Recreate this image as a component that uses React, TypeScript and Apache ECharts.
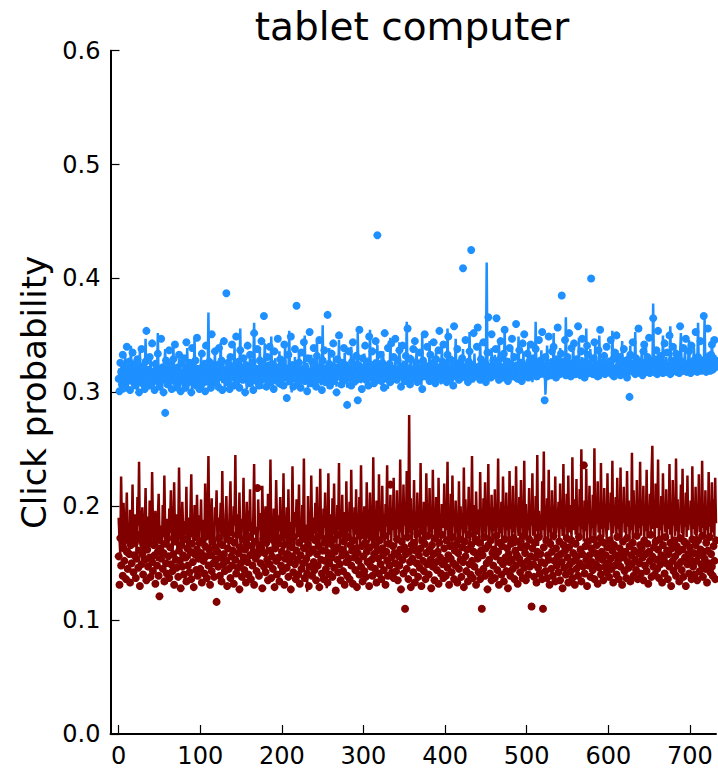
import React, { useEffect, useRef } from "react";
import * as echarts from "echarts";

const chartTitle = "tablet computer";
const yAxisTitle = "Click probability";
const xTicks = [0, 100, 200, 300, 400, 500, 600, 700];
const yMin = 0;
const yMax = 0.6;
const yStep = 0.1;
const xMin = -10;
const xMax = 732;

// blue group (line)
const blueLine = [
  0.309, 0.321, 0.304, 0.315, 0.327, 0.311, 0.300, 0.318, 0.333, 0.306, 0.313, 0.302, 0.324, 0.317, 0.309, 0.341, 0.312, 0.305, 0.320, 0.328,
  0.303, 0.316, 0.310, 0.299, 0.322, 0.314, 0.336, 0.307, 0.319, 0.325, 0.311, 0.302, 0.318, 0.347, 0.309, 0.315, 0.323, 0.304, 0.312, 0.330,
  0.318, 0.306, 0.313, 0.301, 0.327, 0.320, 0.309, 0.314, 0.352, 0.305, 0.317, 0.311, 0.324, 0.300, 0.316, 0.308, 0.321, 0.338, 0.313, 0.306,
  0.319, 0.326, 0.310, 0.303, 0.315, 0.322, 0.308, 0.344, 0.312, 0.318, 0.301, 0.325, 0.314, 0.309, 0.330, 0.306, 0.317, 0.321, 0.311, 0.303,
  0.328, 0.316, 0.309, 0.313, 0.339, 0.304, 0.318, 0.322, 0.310, 0.315, 0.300, 0.326, 0.317, 0.348, 0.308, 0.312, 0.324, 0.305, 0.319, 0.313,
  0.307, 0.331, 0.315, 0.302, 0.320, 0.311, 0.317, 0.325, 0.306, 0.314, 0.370, 0.309, 0.321, 0.316, 0.303, 0.328, 0.312, 0.318, 0.335, 0.307,
  0.313, 0.322, 0.301, 0.317, 0.310, 0.344, 0.315, 0.308, 0.326, 0.319, 0.304, 0.312, 0.323, 0.316, 0.309, 0.332, 0.318, 0.305, 0.327, 0.314,
  0.311, 0.320, 0.340, 0.306, 0.317, 0.313, 0.324, 0.302, 0.318, 0.356, 0.310, 0.315, 0.321, 0.308, 0.329, 0.312, 0.317, 0.303, 0.322, 0.316,
  0.309, 0.334, 0.313, 0.319, 0.305, 0.326, 0.361, 0.311, 0.316, 0.322, 0.307, 0.318, 0.314, 0.338, 0.310, 0.303, 0.324, 0.317, 0.312, 0.343,
  0.320, 0.308, 0.315, 0.327, 0.312, 0.305, 0.318, 0.349, 0.313, 0.309, 0.322, 0.316, 0.330, 0.307, 0.314, 0.320, 0.311, 0.336, 0.304, 0.318,
  0.325, 0.313, 0.309, 0.317, 0.342, 0.310, 0.321, 0.306, 0.315, 0.354, 0.312, 0.318, 0.300, 0.324, 0.314, 0.309, 0.331, 0.317, 0.312, 0.320,
  0.305, 0.337, 0.316, 0.311, 0.323, 0.308, 0.319, 0.313, 0.350, 0.310, 0.317, 0.326, 0.304, 0.315, 0.321, 0.312, 0.333, 0.309, 0.318, 0.314,
  0.322, 0.307, 0.316, 0.345, 0.311, 0.319, 0.313, 0.328, 0.306, 0.317, 0.359, 0.312, 0.320, 0.309, 0.315, 0.324, 0.311, 0.303, 0.339, 0.316,
  0.313, 0.321, 0.308, 0.317, 0.331, 0.312, 0.318, 0.305, 0.325, 0.314, 0.346, 0.310, 0.319, 0.316, 0.322, 0.307, 0.313, 0.335, 0.311, 0.318,
  0.304, 0.316, 0.323, 0.312, 0.309, 0.340, 0.315, 0.320, 0.311, 0.327, 0.306, 0.317, 0.313, 0.352, 0.310, 0.318, 0.324, 0.308, 0.315, 0.321,
  0.312, 0.334, 0.309, 0.318, 0.314, 0.325, 0.307, 0.316, 0.355, 0.311, 0.320, 0.313, 0.317, 0.305, 0.329, 0.315, 0.312, 0.342, 0.318, 0.310,
  0.323, 0.314, 0.319, 0.308, 0.336, 0.313, 0.317, 0.311, 0.326, 0.316, 0.303, 0.321, 0.315, 0.348, 0.312, 0.318, 0.310, 0.324, 0.314, 0.331,
  0.309, 0.317, 0.322, 0.313, 0.344, 0.311, 0.316, 0.320, 0.307, 0.328, 0.314, 0.319, 0.312, 0.362, 0.315, 0.310, 0.323, 0.317, 0.333, 0.313,
  0.318, 0.311, 0.326, 0.315, 0.308, 0.339, 0.316, 0.320, 0.312, 0.324, 0.317, 0.306, 0.351, 0.313, 0.319, 0.315, 0.327, 0.311, 0.318, 0.322,
  0.314, 0.345, 0.312, 0.317, 0.309, 0.330, 0.316, 0.321, 0.313, 0.337, 0.310, 0.318, 0.325, 0.314, 0.319, 0.307, 0.343, 0.315, 0.320, 0.312,
  0.326, 0.317, 0.311, 0.356, 0.314, 0.320, 0.316, 0.309, 0.332, 0.318, 0.313, 0.323, 0.316, 0.347, 0.311, 0.319, 0.314, 0.328, 0.317, 0.312,
  0.321, 0.315, 0.338, 0.313, 0.318, 0.310, 0.327, 0.316, 0.320, 0.312, 0.353, 0.317, 0.314, 0.323, 0.318, 0.309, 0.334, 0.315, 0.319, 0.313,
  0.324, 0.316, 0.311, 0.344, 0.318, 0.314, 0.320, 0.329, 0.313, 0.317, 0.322, 0.414, 0.315, 0.310, 0.326, 0.318, 0.313, 0.339, 0.316, 0.320,
  0.312, 0.333, 0.317, 0.314, 0.321, 0.308, 0.346, 0.315, 0.319, 0.313, 0.325, 0.316, 0.311, 0.357, 0.318, 0.314, 0.322, 0.317, 0.330, 0.312,
  0.319, 0.315, 0.340, 0.313, 0.320, 0.316, 0.310, 0.327, 0.318, 0.314, 0.349, 0.317, 0.312, 0.323, 0.315, 0.320, 0.336, 0.311, 0.318, 0.314,
  0.321, 0.316, 0.344, 0.312, 0.319, 0.315, 0.328, 0.309, 0.317, 0.322, 0.313, 0.362, 0.316, 0.318, 0.311, 0.325, 0.315, 0.320, 0.337, 0.313,
  0.318, 0.314, 0.323, 0.298, 0.316, 0.341, 0.319, 0.313, 0.321, 0.317, 0.330, 0.315, 0.312, 0.352, 0.318, 0.314, 0.320, 0.326, 0.316, 0.319,
  0.313, 0.339, 0.317, 0.322, 0.315, 0.328, 0.318, 0.312, 0.366, 0.316, 0.320, 0.314, 0.333, 0.318, 0.315, 0.323, 0.317, 0.345, 0.313, 0.319,
  0.316, 0.325, 0.320, 0.314, 0.348, 0.317, 0.322, 0.315, 0.331, 0.318, 0.313, 0.321, 0.316, 0.356, 0.319, 0.314, 0.324, 0.317, 0.338, 0.315,
  0.320, 0.316, 0.327, 0.313, 0.342, 0.318, 0.321, 0.315, 0.319, 0.350, 0.317, 0.312, 0.325, 0.318, 0.316, 0.334, 0.320, 0.314, 0.322, 0.317,
  0.315, 0.329, 0.318, 0.322, 0.314, 0.354, 0.319, 0.316, 0.324, 0.312, 0.320, 0.337, 0.317, 0.321, 0.315, 0.326, 0.318, 0.345, 0.314, 0.320,
  0.317, 0.323, 0.315, 0.332, 0.319, 0.313, 0.321, 0.341, 0.316, 0.318, 0.325, 0.320, 0.314, 0.353, 0.317, 0.322, 0.319, 0.328, 0.315, 0.321,
  0.318, 0.336, 0.316, 0.320, 0.314, 0.327, 0.344, 0.319, 0.317, 0.323, 0.315, 0.330, 0.318, 0.321, 0.316, 0.378, 0.320, 0.314, 0.326, 0.319,
  0.317, 0.339, 0.321, 0.315, 0.324, 0.318, 0.320, 0.350, 0.316, 0.322, 0.319, 0.331, 0.315, 0.323, 0.318, 0.320, 0.358, 0.317, 0.327, 0.321,
  0.316, 0.324, 0.342, 0.319, 0.315, 0.328, 0.320, 0.317, 0.334, 0.352, 0.318, 0.322, 0.316, 0.325, 0.336, 0.319, 0.321, 0.317, 0.329, 0.346,
  0.320, 0.316, 0.323, 0.318, 0.327, 0.339, 0.321, 0.317, 0.324, 0.319, 0.361, 0.316, 0.322, 0.320, 0.331, 0.318, 0.324, 0.317, 0.365, 0.320,
  0.318, 0.326, 0.335, 0.321, 0.317, 0.323, 0.319, 0.348, 0.320, 0.324, 0.318, 0.333, 0.321,
];

// blue group (observed points)
const blueDots = [
  0.312, 0.301, 0.326, 0.318, 0.307, 0.333, 0.315, 0.322, 0.304, 0.319, 0.340, 0.310, 0.316, 0.327, 0.302, 0.321, 0.313, 0.335, 0.309, 0.318,
  0.324, 0.306, 0.317, 0.329, 0.311, 0.300, 0.320, 0.314, 0.338, 0.308, 0.323, 0.315, 0.303, 0.327, 0.354, 0.312, 0.319, 0.306, 0.331, 0.316,
  0.309, 0.343, 0.318, 0.313, 0.302, 0.325, 0.316, 0.310, 0.334, 0.320, 0.305, 0.317, 0.347, 0.311, 0.322, 0.300, 0.314, 0.282, 0.328, 0.319,
  0.307, 0.316, 0.337, 0.312, 0.324, 0.303, 0.318, 0.329, 0.310, 0.342, 0.315, 0.321, 0.306, 0.319, 0.333, 0.313, 0.301, 0.325, 0.317, 0.310,
  0.330, 0.318, 0.304, 0.344, 0.313, 0.320, 0.309, 0.326, 0.315, 0.300, 0.339, 0.317, 0.322, 0.311, 0.328, 0.306, 0.348, 0.314, 0.319, 0.303,
  0.321, 0.312, 0.334, 0.308, 0.317, 0.325, 0.301, 0.341, 0.315, 0.320, 0.310, 0.327, 0.318, 0.304, 0.351, 0.313, 0.322, 0.309, 0.336, 0.316,
  0.311, 0.324, 0.305, 0.339, 0.318, 0.314, 0.328, 0.302, 0.320, 0.345, 0.312, 0.317, 0.387, 0.309, 0.326, 0.315, 0.303, 0.331, 0.321, 0.342,
  0.313, 0.306, 0.322, 0.316, 0.349, 0.310, 0.319, 0.327, 0.304, 0.337, 0.315, 0.321, 0.311, 0.330, 0.318, 0.300, 0.324, 0.313, 0.341, 0.317,
  0.308, 0.333, 0.319, 0.314, 0.326, 0.302, 0.352, 0.316, 0.321, 0.310, 0.338, 0.315, 0.306, 0.328, 0.319, 0.345, 0.311, 0.323, 0.367, 0.314,
  0.320, 0.305, 0.331, 0.317, 0.312, 0.340, 0.318, 0.309, 0.325, 0.314, 0.303, 0.336, 0.319, 0.322, 0.311, 0.347, 0.316, 0.308, 0.329, 0.320,
  0.313, 0.327, 0.306, 0.342, 0.318, 0.315, 0.295, 0.321, 0.333, 0.310, 0.319, 0.349, 0.314, 0.324, 0.305, 0.317, 0.338, 0.312, 0.376, 0.320,
  0.309, 0.326, 0.316, 0.304, 0.335, 0.319, 0.313, 0.344, 0.310, 0.322, 0.317, 0.301, 0.330, 0.315, 0.353, 0.318, 0.308, 0.327, 0.312, 0.339,
  0.316, 0.323, 0.305, 0.332, 0.318, 0.311, 0.346, 0.320, 0.314, 0.302, 0.328, 0.317, 0.337, 0.309, 0.321, 0.315, 0.368, 0.312, 0.325, 0.306,
  0.319, 0.334, 0.313, 0.343, 0.310, 0.322, 0.316, 0.300, 0.329, 0.318, 0.350, 0.314, 0.320, 0.307, 0.326, 0.317, 0.339, 0.311, 0.324, 0.315,
  0.289, 0.321, 0.336, 0.313, 0.318, 0.306, 0.327, 0.344, 0.315, 0.320, 0.310, 0.332, 0.317, 0.293, 0.324, 0.355, 0.312, 0.319, 0.303, 0.330,
  0.316, 0.322, 0.341, 0.311, 0.318, 0.327, 0.306, 0.349, 0.315, 0.320, 0.313, 0.336, 0.318, 0.308, 0.325, 0.345, 0.314, 0.438, 0.321, 0.311,
  0.317, 0.333, 0.310, 0.326, 0.319, 0.304, 0.352, 0.316, 0.322, 0.312, 0.339, 0.318, 0.325, 0.309, 0.343, 0.315, 0.320, 0.331, 0.313, 0.347,
  0.319, 0.311, 0.328, 0.316, 0.337, 0.322, 0.305, 0.318, 0.341, 0.314, 0.324, 0.310, 0.332, 0.319, 0.356, 0.316, 0.321, 0.307, 0.329, 0.317,
  0.312, 0.338, 0.320, 0.345, 0.315, 0.326, 0.309, 0.322, 0.317, 0.335, 0.313, 0.319, 0.303, 0.328, 0.318, 0.351, 0.314, 0.323, 0.340, 0.316,
  0.321, 0.310, 0.333, 0.317, 0.325, 0.313, 0.344, 0.319, 0.308, 0.329, 0.316, 0.322, 0.337, 0.354, 0.314, 0.320, 0.311, 0.327, 0.342, 0.318,
  0.315, 0.324, 0.309, 0.333, 0.349, 0.317, 0.321, 0.312, 0.328, 0.319, 0.306, 0.358, 0.316, 0.323, 0.314, 0.338, 0.320, 0.311, 0.326, 0.318,
  0.313, 0.330, 0.409, 0.317, 0.322, 0.346, 0.315, 0.320, 0.309, 0.327, 0.336, 0.318, 0.425, 0.312, 0.324, 0.352, 0.317, 0.321, 0.314, 0.340,
  0.357, 0.316, 0.323, 0.311, 0.329, 0.318, 0.320, 0.344, 0.314, 0.326, 0.309, 0.321, 0.335, 0.366, 0.317, 0.322, 0.313, 0.351, 0.319, 0.328,
  0.315, 0.320, 0.338, 0.365, 0.316, 0.324, 0.311, 0.329, 0.345, 0.318, 0.322, 0.313, 0.334, 0.355, 0.319, 0.316, 0.327, 0.310, 0.321, 0.339,
  0.318, 0.325, 0.347, 0.314, 0.320, 0.331, 0.316, 0.360, 0.322, 0.312, 0.319, 0.337, 0.317, 0.326, 0.310, 0.343, 0.321, 0.351, 0.315, 0.323,
  0.319, 0.334, 0.313, 0.327, 0.318, 0.342, 0.321, 0.315, 0.330, 0.317, 0.324, 0.338, 0.314, 0.322, 0.319, 0.346, 0.316, 0.328, 0.320, 0.353,
  0.317, 0.323, 0.293, 0.331, 0.319, 0.314, 0.326, 0.349, 0.318, 0.322, 0.315, 0.336, 0.320, 0.340, 0.316, 0.325, 0.313, 0.329, 0.357, 0.319,
  0.322, 0.316, 0.334, 0.385, 0.318, 0.327, 0.320, 0.346, 0.315, 0.321, 0.331, 0.317, 0.352, 0.323, 0.314, 0.339, 0.320, 0.326, 0.343, 0.318,
  0.316, 0.329, 0.321, 0.358, 0.319, 0.324, 0.315, 0.336, 0.347, 0.318, 0.322, 0.313, 0.327, 0.320, 0.341, 0.333, 0.317, 0.323, 0.319, 0.400,
  0.321, 0.316, 0.330, 0.344, 0.318, 0.325, 0.320, 0.314, 0.337, 0.322, 0.355, 0.317, 0.326, 0.319, 0.321, 0.332, 0.316, 0.324, 0.340, 0.320,
  0.318, 0.327, 0.322, 0.346, 0.316, 0.320, 0.329, 0.314, 0.335, 0.321, 0.350, 0.317, 0.323, 0.319, 0.331, 0.315, 0.326, 0.320, 0.318, 0.338,
  0.322, 0.317, 0.328, 0.313, 0.324, 0.320, 0.296, 0.333, 0.319, 0.325, 0.344, 0.318, 0.321, 0.316, 0.330, 0.323, 0.319, 0.356, 0.322, 0.317,
  0.327, 0.320, 0.315, 0.336, 0.342, 0.319, 0.324, 0.318, 0.331, 0.322, 0.348, 0.317, 0.326, 0.320, 0.323, 0.365, 0.318, 0.329, 0.321, 0.337,
  0.316, 0.354, 0.322, 0.327, 0.319, 0.332, 0.320, 0.317, 0.325, 0.343, 0.321, 0.318, 0.335, 0.323, 0.319, 0.350, 0.316, 0.328, 0.322, 0.340,
  0.319, 0.326, 0.321, 0.334, 0.318, 0.324, 0.330, 0.317, 0.358, 0.322, 0.327, 0.319, 0.339, 0.321, 0.325, 0.347, 0.318, 0.323, 0.320, 0.336,
  0.322, 0.317, 0.341, 0.325, 0.320, 0.328, 0.319, 0.353, 0.323, 0.318, 0.331, 0.321, 0.326, 0.345, 0.319, 0.324, 0.322, 0.367, 0.320, 0.329,
  0.318, 0.325, 0.356, 0.321, 0.327, 0.319, 0.333, 0.342, 0.320, 0.324, 0.346, 0.322, 0.328,
];

// dark red group (line)
const redLine = [
  0.190, 0.172, 0.158, 0.226, 0.181, 0.166, 0.203, 0.175, 0.161, 0.184, 0.212, 0.169, 0.178, 0.155, 0.197, 0.186, 0.171, 0.219, 0.164, 0.180,
  0.193, 0.176, 0.160, 0.208, 0.183, 0.239, 0.170, 0.165, 0.187, 0.199, 0.174, 0.157, 0.182, 0.216, 0.168, 0.177, 0.191, 0.162, 0.205, 0.179,
  0.171, 0.230, 0.185, 0.163, 0.174, 0.196, 0.181, 0.152, 0.188, 0.211, 0.176, 0.167, 0.183, 0.159, 0.201, 0.173, 0.227, 0.180, 0.165, 0.189,
  0.177, 0.162, 0.198, 0.186, 0.214, 0.171, 0.158, 0.182, 0.221, 0.175, 0.169, 0.193, 0.160, 0.178, 0.234, 0.184, 0.166, 0.172, 0.204, 0.181,
  0.168, 0.187, 0.175, 0.217, 0.163, 0.190, 0.179, 0.154, 0.196, 0.228, 0.173, 0.182, 0.166, 0.201, 0.185, 0.171, 0.210, 0.176, 0.159, 0.192,
  0.180, 0.206, 0.167, 0.188, 0.174, 0.161, 0.220, 0.183, 0.170, 0.195, 0.244, 0.178, 0.164, 0.186, 0.207, 0.172, 0.181, 0.156, 0.199, 0.185,
  0.214, 0.173, 0.160, 0.190, 0.179, 0.203, 0.168, 0.231, 0.176, 0.184, 0.162, 0.192, 0.209, 0.170, 0.181, 0.165, 0.197, 0.222, 0.174, 0.187,
  0.169, 0.200, 0.183, 0.245, 0.175, 0.163, 0.193, 0.178, 0.212, 0.171, 0.158, 0.189, 0.180, 0.225, 0.167, 0.185, 0.174, 0.204, 0.162, 0.196,
  0.178, 0.215, 0.170, 0.186, 0.164, 0.191, 0.237, 0.175, 0.182, 0.168, 0.157, 0.206, 0.179, 0.194, 0.173, 0.163, 0.218, 0.184, 0.170, 0.188,
  0.200, 0.176, 0.161, 0.211, 0.182, 0.169, 0.241, 0.174, 0.187, 0.158, 0.198, 0.180, 0.172, 0.223, 0.185, 0.166, 0.192, 0.178, 0.208, 0.170,
  0.189, 0.175, 0.229, 0.165, 0.183, 0.177, 0.199, 0.159, 0.215, 0.171, 0.186, 0.180, 0.168, 0.235, 0.176, 0.164, 0.195, 0.182, 0.206, 0.173,
  0.181, 0.219, 0.170, 0.189, 0.162, 0.201, 0.176, 0.242, 0.168, 0.184, 0.178, 0.125, 0.209, 0.173, 0.194, 0.167, 0.227, 0.180, 0.171, 0.190,
  0.176, 0.203, 0.165, 0.217, 0.179, 0.187, 0.160, 0.233, 0.174, 0.192, 0.169, 0.198, 0.181, 0.212, 0.166, 0.128, 0.177, 0.229, 0.172, 0.193,
  0.180, 0.161, 0.207, 0.175, 0.220, 0.171, 0.184, 0.167, 0.201, 0.179, 0.238, 0.163, 0.188, 0.176, 0.210, 0.168, 0.195, 0.182, 0.158, 0.222,
  0.173, 0.186, 0.178, 0.204, 0.165, 0.232, 0.180, 0.190, 0.170, 0.199, 0.175, 0.215, 0.162, 0.183, 0.179, 0.208, 0.167, 0.236, 0.176, 0.188,
  0.171, 0.200, 0.183, 0.160, 0.221, 0.177, 0.191, 0.168, 0.212, 0.180, 0.186, 0.164, 0.243, 0.174, 0.196, 0.172, 0.205, 0.181, 0.166, 0.228,
  0.178, 0.188, 0.169, 0.218, 0.176, 0.193, 0.162, 0.202, 0.182, 0.236, 0.170, 0.187, 0.175, 0.210, 0.167, 0.198, 0.179, 0.225, 0.173, 0.189,
  0.164, 0.214, 0.180, 0.195, 0.171, 0.241, 0.177, 0.185, 0.168, 0.219, 0.183, 0.201, 0.174, 0.231, 0.169, 0.190, 0.280, 0.176, 0.207, 0.165,
  0.196, 0.179, 0.223, 0.172, 0.187, 0.162, 0.212, 0.181, 0.199, 0.167, 0.238, 0.175, 0.191, 0.170, 0.204, 0.178, 0.164, 0.229, 0.183, 0.194,
  0.171, 0.216, 0.177, 0.188, 0.166, 0.232, 0.180, 0.197, 0.173, 0.208, 0.185, 0.162, 0.225, 0.176, 0.192, 0.169, 0.202, 0.181, 0.186, 0.220,
  0.167, 0.198, 0.179, 0.239, 0.172, 0.189, 0.175, 0.211, 0.164, 0.227, 0.182, 0.195, 0.170, 0.205, 0.178, 0.184, 0.163, 0.222, 0.174, 0.200,
  0.180, 0.190, 0.167, 0.234, 0.176, 0.206, 0.171, 0.196, 0.184, 0.217, 0.165, 0.187, 0.178, 0.244, 0.173, 0.201, 0.181, 0.166, 0.213, 0.185,
  0.175, 0.197, 0.169, 0.230, 0.182, 0.191, 0.162, 0.207, 0.177, 0.221, 0.170, 0.193, 0.183, 0.237, 0.167, 0.186, 0.179, 0.210, 0.172, 0.199,
  0.178, 0.215, 0.164, 0.189, 0.181, 0.242, 0.173, 0.195, 0.176, 0.204, 0.168, 0.226, 0.184, 0.188, 0.171, 0.212, 0.179, 0.200, 0.166, 0.231,
  0.180, 0.191, 0.172, 0.218, 0.177, 0.198, 0.165, 0.235, 0.183, 0.187, 0.174, 0.208, 0.169, 0.223, 0.181, 0.194, 0.164, 0.240, 0.176, 0.202,
  0.172, 0.188, 0.179, 0.216, 0.167, 0.199, 0.183, 0.229, 0.174, 0.192, 0.170, 0.209, 0.178, 0.245, 0.165, 0.196, 0.182, 0.185, 0.173, 0.222,
  0.179, 0.248, 0.168, 0.194, 0.184, 0.207, 0.172, 0.232, 0.177, 0.189, 0.163, 0.214, 0.181, 0.200, 0.170, 0.226, 0.176, 0.187, 0.184, 0.204,
  0.167, 0.220, 0.180, 0.196, 0.174, 0.237, 0.171, 0.191, 0.182, 0.211, 0.168, 0.227, 0.177, 0.201, 0.185, 0.172, 0.243, 0.179, 0.190, 0.206,
  0.175, 0.224, 0.166, 0.197, 0.183, 0.215, 0.173, 0.250, 0.180, 0.188, 0.169, 0.205, 0.178, 0.233, 0.172, 0.199, 0.185, 0.218, 0.167, 0.192,
  0.181, 0.210, 0.174, 0.251, 0.170, 0.195, 0.184, 0.222, 0.177, 0.190, 0.165, 0.238, 0.180, 0.202, 0.173, 0.216, 0.182, 0.186, 0.171, 0.229,
  0.179, 0.198, 0.186, 0.212, 0.168, 0.240, 0.176, 0.192, 0.183, 0.208, 0.172, 0.225, 0.180, 0.188, 0.174, 0.234, 0.167, 0.201, 0.185, 0.217,
  0.177, 0.194, 0.170, 0.231, 0.182, 0.205, 0.173, 0.191, 0.179, 0.247, 0.166, 0.214, 0.184, 0.199, 0.175, 0.223, 0.171, 0.187, 0.181, 0.239,
  0.174, 0.203, 0.183, 0.218, 0.169, 0.196, 0.178, 0.232, 0.172, 0.190, 0.185, 0.211, 0.176, 0.227, 0.253, 0.180, 0.198, 0.167, 0.220, 0.186,
  0.181, 0.241, 0.173, 0.195, 0.179, 0.209, 0.170, 0.229, 0.184, 0.192, 0.177, 0.215, 0.172, 0.201, 0.180, 0.237, 0.175, 0.189, 0.168, 0.223,
  0.183, 0.199, 0.174, 0.242, 0.178, 0.206, 0.171, 0.191, 0.185, 0.219, 0.176, 0.233, 0.169, 0.197, 0.182, 0.212, 0.173, 0.227, 0.179, 0.192,
  0.184, 0.205, 0.172, 0.235, 0.180, 0.198, 0.175, 0.217, 0.170, 0.188, 0.183, 0.228, 0.177, 0.195, 0.173, 0.240, 0.181, 0.202, 0.168, 0.214,
  0.179, 0.193, 0.174, 0.230, 0.182, 0.200, 0.170, 0.221, 0.177, 0.206, 0.173, 0.225, 0.185,
];

// dark red group (observed points)
const redDots = [
  0.156, 0.131, 0.172, 0.148, 0.185, 0.139, 0.163, 0.152, 0.177, 0.136, 0.160, 0.145, 0.170, 0.158, 0.133, 0.166, 0.150, 0.181, 0.142, 0.157,
  0.168, 0.137, 0.154, 0.175, 0.146, 0.161, 0.130, 0.171, 0.149, 0.158, 0.140, 0.165, 0.153, 0.178, 0.135, 0.162, 0.147, 0.169, 0.155, 0.138,
  0.174, 0.151, 0.143, 0.166, 0.157, 0.132, 0.170, 0.148, 0.160, 0.139, 0.121, 0.163, 0.154, 0.176, 0.145, 0.159, 0.134, 0.167, 0.150, 0.141,
  0.172, 0.156, 0.137, 0.164, 0.149, 0.180, 0.143, 0.158, 0.131, 0.169, 0.153, 0.146, 0.175, 0.138, 0.161, 0.152, 0.128, 0.166, 0.147, 0.157,
  0.140, 0.171, 0.155, 0.134, 0.163, 0.148, 0.177, 0.142, 0.160, 0.136, 0.167, 0.151, 0.129, 0.158, 0.173, 0.144, 0.162, 0.139, 0.154, 0.168,
  0.145, 0.159, 0.133, 0.170, 0.152, 0.141, 0.165, 0.156, 0.137, 0.174, 0.148, 0.162, 0.131, 0.157, 0.143, 0.169, 0.150, 0.138, 0.164, 0.153,
  0.116, 0.160, 0.147, 0.172, 0.139, 0.155, 0.134, 0.166, 0.149, 0.158, 0.143, 0.176, 0.152, 0.130, 0.163, 0.145, 0.170, 0.137, 0.156, 0.148,
  0.161, 0.132, 0.168, 0.153, 0.141, 0.175, 0.146, 0.159, 0.127, 0.164, 0.150, 0.138, 0.171, 0.155, 0.144, 0.162, 0.133, 0.167, 0.151, 0.140,
  0.173, 0.157, 0.136, 0.165, 0.148, 0.160, 0.131, 0.169, 0.154, 0.143, 0.216, 0.158, 0.139, 0.166, 0.150, 0.163, 0.128, 0.171, 0.147, 0.159,
  0.142, 0.168, 0.153, 0.135, 0.174, 0.149, 0.161, 0.137, 0.156, 0.145, 0.170, 0.129, 0.163, 0.152, 0.140, 0.167, 0.155, 0.134, 0.172, 0.148,
  0.160, 0.143, 0.166, 0.131, 0.154, 0.175, 0.146, 0.158, 0.138, 0.169, 0.151, 0.127, 0.164, 0.156, 0.142, 0.173, 0.149, 0.136, 0.161, 0.153,
  0.140, 0.168, 0.132, 0.157, 0.145, 0.176, 0.150, 0.163, 0.137, 0.171, 0.154, 0.141, 0.166, 0.130, 0.159, 0.147, 0.173, 0.139, 0.162, 0.151,
  0.144, 0.170, 0.135, 0.158, 0.148, 0.165, 0.129, 0.174, 0.153, 0.141, 0.161, 0.136, 0.168, 0.152, 0.145, 0.172, 0.133, 0.159, 0.150, 0.140,
  0.167, 0.155, 0.138, 0.171, 0.146, 0.160, 0.126, 0.164, 0.153, 0.142, 0.175, 0.149, 0.135, 0.162, 0.157, 0.143, 0.169, 0.131, 0.158, 0.151,
  0.139, 0.173, 0.154, 0.136, 0.166, 0.148, 0.161, 0.132, 0.170, 0.155, 0.144, 0.163, 0.129, 0.159, 0.152, 0.140, 0.174, 0.147, 0.165, 0.134,
  0.156, 0.143, 0.168, 0.138, 0.160, 0.151, 0.175, 0.130, 0.164, 0.147, 0.153, 0.139, 0.172, 0.158, 0.145, 0.166, 0.133, 0.161, 0.154, 0.141,
  0.170, 0.149, 0.136, 0.163, 0.157, 0.144, 0.174, 0.131, 0.160, 0.152, 0.139, 0.167, 0.148, 0.219, 0.155, 0.142, 0.165, 0.137, 0.159, 0.150,
  0.143, 0.171, 0.135, 0.156, 0.148, 0.162, 0.127, 0.169, 0.153, 0.141, 0.164, 0.110, 0.158, 0.145, 0.173, 0.136, 0.160, 0.151, 0.129, 0.166,
  0.154, 0.142, 0.168, 0.133, 0.161, 0.150, 0.176, 0.138, 0.157, 0.146, 0.163, 0.130, 0.170, 0.152, 0.143, 0.167, 0.136, 0.159, 0.149, 0.174,
  0.140, 0.162, 0.153, 0.128, 0.166, 0.147, 0.158, 0.135, 0.172, 0.151, 0.144, 0.160, 0.132, 0.168, 0.155, 0.141, 0.175, 0.149, 0.137, 0.163,
  0.152, 0.139, 0.170, 0.146, 0.157, 0.131, 0.165, 0.154, 0.142, 0.173, 0.150, 0.136, 0.161, 0.148, 0.167, 0.133, 0.159, 0.145, 0.171, 0.153,
  0.138, 0.164, 0.151, 0.129, 0.169, 0.156, 0.143, 0.162, 0.134, 0.175, 0.149, 0.140, 0.166, 0.152, 0.137, 0.160, 0.147, 0.171, 0.131, 0.158,
  0.154, 0.142, 0.168, 0.136, 0.161, 0.110, 0.157, 0.145, 0.173, 0.139, 0.163, 0.150, 0.127, 0.166, 0.153, 0.141, 0.170, 0.135, 0.159, 0.148,
  0.162, 0.137, 0.156, 0.174, 0.144, 0.160, 0.131, 0.168, 0.152, 0.140, 0.165, 0.149, 0.134, 0.171, 0.155, 0.143, 0.163, 0.128, 0.158, 0.151,
  0.139, 0.167, 0.153, 0.145, 0.172, 0.136, 0.161, 0.148, 0.157, 0.132, 0.169, 0.154, 0.142, 0.164, 0.150, 0.137, 0.174, 0.146, 0.159, 0.135,
  0.165, 0.152, 0.140, 0.171, 0.147, 0.156, 0.112, 0.163, 0.149, 0.138, 0.168, 0.155, 0.133, 0.160, 0.146, 0.173, 0.141, 0.158, 0.151, 0.136,
  0.110, 0.164, 0.150, 0.143, 0.170, 0.137, 0.157, 0.153, 0.131, 0.167, 0.145, 0.160, 0.139, 0.174, 0.152, 0.134, 0.163, 0.148, 0.156, 0.142,
  0.169, 0.135, 0.158, 0.151, 0.128, 0.166, 0.146, 0.161, 0.140, 0.172, 0.155, 0.133, 0.164, 0.149, 0.143, 0.170, 0.137, 0.159, 0.152, 0.131,
  0.167, 0.145, 0.156, 0.139, 0.173, 0.150, 0.162, 0.134, 0.158, 0.147, 0.236, 0.141, 0.165, 0.153, 0.130, 0.169, 0.148, 0.157, 0.138, 0.163,
  0.151, 0.144, 0.171, 0.136, 0.159, 0.149, 0.166, 0.132, 0.155, 0.146, 0.172, 0.140, 0.160, 0.153, 0.135, 0.168, 0.147, 0.157, 0.142, 0.164,
  0.150, 0.138, 0.170, 0.154, 0.145, 0.161, 0.133, 0.166, 0.148, 0.157, 0.140, 0.173, 0.152, 0.136, 0.163, 0.147, 0.158, 0.131, 0.169, 0.155,
  0.143, 0.160, 0.137, 0.172, 0.151, 0.146, 0.165, 0.134, 0.157, 0.149, 0.168, 0.139, 0.161, 0.153, 0.144, 0.174, 0.136, 0.159, 0.150, 0.166,
  0.141, 0.163, 0.155, 0.135, 0.170, 0.148, 0.158, 0.143, 0.167, 0.132, 0.160, 0.152, 0.175, 0.138, 0.156, 0.147, 0.164, 0.140, 0.169, 0.153,
  0.145, 0.162, 0.137, 0.171, 0.149, 0.157, 0.133, 0.166, 0.154, 0.141, 0.173, 0.150, 0.161, 0.136, 0.158, 0.147, 0.168, 0.130, 0.163, 0.152,
  0.143, 0.170, 0.156, 0.139, 0.165, 0.148, 0.160, 0.134, 0.172, 0.151, 0.144, 0.162, 0.138, 0.169, 0.155, 0.130, 0.167, 0.149, 0.158, 0.141,
  0.164, 0.153, 0.136, 0.171, 0.147, 0.159, 0.140, 0.166, 0.152, 0.135, 0.170, 0.157, 0.143, 0.162, 0.149, 0.174, 0.138, 0.160, 0.154, 0.145,
  0.168, 0.133, 0.161, 0.150, 0.173, 0.142, 0.158, 0.147, 0.139, 0.165, 0.152, 0.136, 0.170,
];

const blueColor = "#1E90FF";
const redColor = "#800000";
const font = "DejaVu Sans";

const toPairs = (arr: number[]) => arr.map((v, i) => [i, v]);

export default function App() {
  const ref = useRef<HTMLDivElement>(null);

  useEffect(() => {
    if (!ref.current) return;
    const chart = echarts.init(ref.current, null, { renderer: "svg" });
    chart.setOption({
      animation: false,
      backgroundColor: "#ffffff",
      title: {
        text: chartTitle,
        left: 407,
        top: 2,
        textAlign: "center",
        textStyle: { fontSize: 39, fontWeight: "normal", color: "#000", fontFamily: font },
      },
      grid: { left: 110.5, right: 2, top: 50.7, bottom: 37, containLabel: false },
      xAxis: {
        type: "value",
        min: xMin,
        max: xMax,
        axisLine: { show: true, onZero: false, lineStyle: { color: "#000", width: 2 } },
        axisTick: { show: true, inside: true, length: 9, customValues: xTicks, lineStyle: { color: "#000", width: 1.2 } },
        axisLabel: {
          customValues: xTicks,
          fontSize: 24,
          color: "#000",
          fontFamily: font,
          margin: 10,
        },
        splitLine: { show: false },
      },
      yAxis: {
        type: "value",
        min: yMin,
        max: yMax,
        interval: yStep,
        name: yAxisTitle,
        nameLocation: "middle",
        nameGap: 60,
        nameTextStyle: { fontSize: 34, color: "#000", fontFamily: font },
        axisLine: { show: true, onZero: false, lineStyle: { color: "#000", width: 2 } },
        axisTick: { show: true, inside: true, length: 9, lineStyle: { color: "#000", width: 1.2 } },
        axisLabel: {
          fontSize: 24,
          color: "#000",
          fontFamily: font,
          margin: 10,
          formatter: (v: number) => v.toFixed(1),
        },
        splitLine: { show: false },
      },
      series: [
        {
          type: "line",
          data: toPairs(blueLine),
          showSymbol: false,
          symbol: "none",
          lineStyle: { color: blueColor, width: 2.5 },
          itemStyle: { color: blueColor },
          z: 2,
        },
        {
          type: "scatter",
          data: toPairs(blueDots),
          symbolSize: 8,
          itemStyle: { color: blueColor, opacity: 1 },
          z: 3,
        },
        {
          type: "line",
          data: toPairs(redLine),
          showSymbol: false,
          symbol: "none",
          lineStyle: { color: redColor, width: 2.5 },
          itemStyle: { color: redColor },
          z: 2,
        },
        {
          type: "scatter",
          data: toPairs(redDots),
          symbolSize: 8,
          itemStyle: { color: redColor, opacity: 1 },
          z: 3,
        },
      ],
    });
    return () => chart.dispose();
  }, []);

  return (
    <div
      ref={ref}
      style={{ position: "absolute", left: 0, top: 0, width: 718, height: 771 }}
    />
  );
}
